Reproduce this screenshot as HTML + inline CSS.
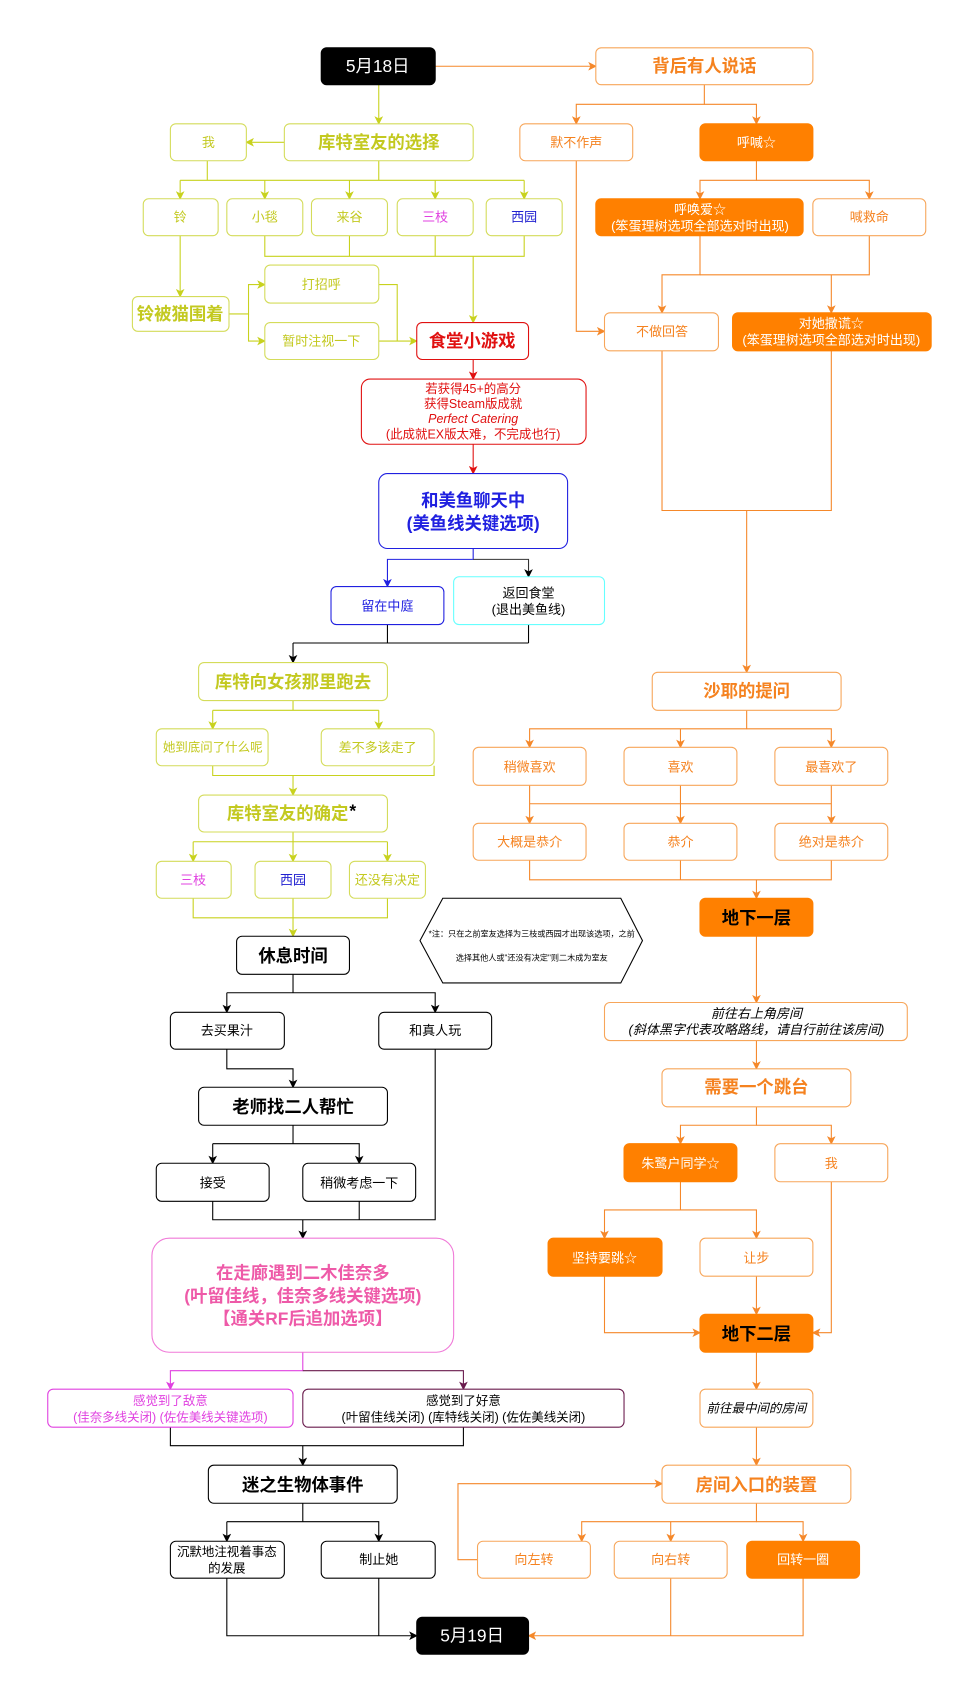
<!DOCTYPE html>
<html><head><meta charset="utf-8"><style>
html,body{margin:0;padding:0;background:#fff;}
svg{display:block}
text{font-family:"Liberation Sans","Noto Sans CJK SC",sans-serif;text-anchor:middle;dominant-baseline:central}
.b{font-weight:bold}
</style></head><body>
<svg width="980" height="1702" viewBox="0 0 903 1567" preserveAspectRatio="none" xmlns="http://www.w3.org/2000/svg">
<defs>
<marker id="yg" markerWidth="8" markerHeight="8" refX="7" refY="4" orient="auto" markerUnits="userSpaceOnUse"><path d="M0,0 L8,4 L0,8 L2,4z" fill="#c8d21e"/></marker>
<marker id="or" markerWidth="8" markerHeight="8" refX="7" refY="4" orient="auto" markerUnits="userSpaceOnUse"><path d="M0,0 L8,4 L0,8 L2,4z" fill="#f5882a"/></marker>
<marker id="rd" markerWidth="8" markerHeight="8" refX="7" refY="4" orient="auto" markerUnits="userSpaceOnUse"><path d="M0,0 L8,4 L0,8 L2,4z" fill="#e01010"/></marker>
<marker id="bl" markerWidth="8" markerHeight="8" refX="7" refY="4" orient="auto" markerUnits="userSpaceOnUse"><path d="M0,0 L8,4 L0,8 L2,4z" fill="#2020e0"/></marker>
<marker id="bk" markerWidth="8" markerHeight="8" refX="7" refY="4" orient="auto" markerUnits="userSpaceOnUse"><path d="M0,0 L8,4 L0,8 L2,4z" fill="#000"/></marker>
<marker id="pk" markerWidth="8" markerHeight="8" refX="7" refY="4" orient="auto" markerUnits="userSpaceOnUse"><path d="M0,0 L8,4 L0,8 L2,4z" fill="#e040e0"/></marker>
<marker id="mr" markerWidth="8" markerHeight="8" refX="7" refY="4" orient="auto" markerUnits="userSpaceOnUse"><path d="M0,0 L8,4 L0,8 L2,4z" fill="#6a1b4d"/></marker>
</defs>

<g fill="none" stroke="#c8d21e" stroke-width="1">
<path d="M349,78 V114" marker-end="url(#yg)"/>
<path d="M262,131 H227" marker-end="url(#yg)"/>
<path d="M349,148 V166 M191,148 V166 M166,166 H483"/>
<path d="M166,166 V183" marker-end="url(#yg)"/>
<path d="M244,166 V183" marker-end="url(#yg)"/>
<path d="M322,166 V183" marker-end="url(#yg)"/>
<path d="M401,166 V183" marker-end="url(#yg)"/>
<path d="M483,166 V183" marker-end="url(#yg)"/>
<path d="M244,217 V236 H483 V217 M322,217 V236 M401,217 V236"/>
<path d="M436,236 V297" marker-end="url(#yg)"/>
<path d="M166,217 V273" marker-end="url(#yg)"/>
<path d="M211,289 H229 V262 H244" marker-end="url(#yg)"/>
<path d="M229,289 V314 H244" marker-end="url(#yg)"/>
<path d="M349,262 H366 V314"/>
<path d="M349,314 H384" marker-end="url(#yg)"/>
<path d="M270,645 V654 M196,654 H349"/>
<path d="M196,654 V671" marker-end="url(#yg)"/>
<path d="M349,654 V671" marker-end="url(#yg)"/>
<path d="M196,705 V714 H400 V705"/>
<path d="M270,714 V732" marker-end="url(#yg)"/>
<path d="M270,766 V775 M178,775 H357"/>
<path d="M178,775 V793" marker-end="url(#yg)"/>
<path d="M270,775 V793" marker-end="url(#yg)"/>
<path d="M357,775 V793" marker-end="url(#yg)"/>
<path d="M178,827 V845 H357 V827"/>
<path d="M270,827 V862" marker-end="url(#yg)"/>
</g>
<path d="M436,331 V349" stroke="#e01010" fill="none" marker-end="url(#rd)"/>
<path d="M436,409 V436" stroke="#e01010" fill="none" marker-end="url(#rd)"/>
<path d="M436,505 V515 H357 V540" stroke="#2020e0" fill="none" marker-end="url(#bl)"/>
<path d="M436,515 H487 V531" stroke="#333" fill="none" marker-end="url(#bk)"/>
<g fill="none" stroke="#000" stroke-width="1">
<path d="M357,575 V592 M487,575 V592 M270,592 H487"/>
<path d="M270,592 V610" marker-end="url(#bk)"/>
<path d="M270,897 V914 M209,914 H401 V932" marker-end="url(#bk)"/>
<path d="M209,914 V932" marker-end="url(#bk)"/>
<path d="M209,966 V984 H270 V1001" marker-end="url(#bk)"/>
<path d="M270,1036 V1053 M196,1053 H331 V1071" marker-end="url(#bk)"/>
<path d="M196,1053 V1071" marker-end="url(#bk)"/>
<path d="M196,1106 V1123 H401 V966 M331,1106 V1123"/>
<path d="M279,1123 V1140" marker-end="url(#bk)"/>
<path d="M157,1314 V1331 H427 V1314"/>
<path d="M279,1331 V1349" marker-end="url(#bk)"/>
<path d="M279,1384 V1401 M209,1401 H349 V1419" marker-end="url(#bk)"/>
<path d="M209,1401 V1419" marker-end="url(#bk)"/>
<path d="M209,1453 V1506 H384" marker-end="url(#bk)"/>
<path d="M349,1453 V1506"/>
</g>
<path d="M279,1245 V1262 H157 V1279" stroke="#e040e0" fill="none" marker-end="url(#pk)"/>
<path d="M279,1262 H427 V1279" stroke="#6a1b4d" fill="none" marker-end="url(#mr)"/>
<g fill="none" stroke="#f5882a" stroke-width="1">
<path d="M401,61 H549" marker-end="url(#or)"/>
<path d="M649,78 V96 H531 V114" marker-end="url(#or)"/>
<path d="M649,96 H697 V114" marker-end="url(#or)"/>
<path d="M697,148 V166 H645 V183" marker-end="url(#or)"/>
<path d="M697,166 H801 V183" marker-end="url(#or)"/>
<path d="M531,148 V305 H557" marker-end="url(#or)"/>
<path d="M645,217 V253 H610 V288" marker-end="url(#or)"/>
<path d="M801,217 V253 H645 M766,253 V288" marker-end="url(#or)"/>
<path d="M610,323 V470 H766 V323"/>
<path d="M688,470 V619" marker-end="url(#or)"/>
<path d="M688,654 V671 H488 V688" marker-end="url(#or)"/>
<path d="M688,671 H766 V688" marker-end="url(#or)"/>
<path d="M627,671 V688" marker-end="url(#or)"/>
<path d="M488,723 V758" marker-end="url(#or)"/>
<path d="M627,723 V758" marker-end="url(#or)"/>
<path d="M766,723 V758" marker-end="url(#or)"/>
<path d="M488,740 H766"/>
<path d="M488,792 V810 H766 V792 M627,792 V810"/>
<path d="M697,810 V827" marker-end="url(#or)"/>
<path d="M697,862 V923" marker-end="url(#or)"/>
<path d="M697,958 V984" marker-end="url(#or)"/>
<path d="M697,1019 V1036 H627 V1053" marker-end="url(#or)"/>
<path d="M697,1036 H766 V1053" marker-end="url(#or)"/>
<path d="M627,1088 V1114 H557 V1140" marker-end="url(#or)"/>
<path d="M627,1114 H697 V1140" marker-end="url(#or)"/>
<path d="M557,1175 V1227 H645" marker-end="url(#or)"/>
<path d="M697,1175 V1210" marker-end="url(#or)"/>
<path d="M766,1088 V1227 H749" marker-end="url(#or)"/>
<path d="M697,1245 V1279" marker-end="url(#or)"/>
<path d="M697,1314 V1349" marker-end="url(#or)"/>
<path d="M697,1384 V1401 H536 V1419" marker-end="url(#or)"/>
<path d="M697,1401 H740 V1419" marker-end="url(#or)"/>
<path d="M618,1401 V1419" marker-end="url(#or)"/>
<path d="M440,1436 H422 V1366 H610" marker-end="url(#or)"/>
<path d="M740,1453 V1506 H487" marker-end="url(#or)"/>
<path d="M618,1453 V1506"/>
</g>

<g stroke-width="1">
<rect x="296" y="44" width="105" height="34" rx="5" fill="#000" stroke="#000"/>
<text x="348" y="61" fill="#fff" font-size="16">5月18日</text>
<rect x="384" y="1489" width="103" height="34" rx="5" fill="#000" stroke="#000"/>
<text x="435" y="1506" fill="#fff" font-size="16">5月19日</text>

<g fill="#fff" stroke="#d4dc5a">
<rect x="262" y="114" width="174" height="34" rx="5"/>
<rect x="157" y="114" width="70" height="34" rx="5"/>
<rect x="132" y="183" width="69" height="34" rx="5"/>
<rect x="209" y="183" width="70" height="34" rx="5"/>
<rect x="287" y="183" width="70" height="34" rx="5"/>
<rect x="366" y="183" width="70" height="34" rx="5"/>
<rect x="448" y="183" width="70" height="34" rx="5"/>
<rect x="122" y="273" width="89" height="32" rx="5"/>
<rect x="244" y="244" width="105" height="35" rx="5"/>
<rect x="244" y="297" width="105" height="34" rx="5"/>
<rect x="183" y="610" width="174" height="35" rx="5"/>
<rect x="144" y="671" width="103" height="34" rx="5"/>
<rect x="296" y="671" width="104" height="34" rx="5"/>
<rect x="183" y="732" width="174" height="34" rx="5"/>
<rect x="144" y="793" width="69" height="34" rx="5"/>
<rect x="235" y="793" width="70" height="34" rx="5"/>
<rect x="322" y="793" width="70" height="34" rx="5"/>
</g>
<g font-size="12" fill="#c3c920">
<text x="349" y="131" font-size="16" class="b">库特室友的选择</text>
<text x="192" y="131">我</text>
<text x="166" y="200">铃</text>
<text x="244" y="200">小毯</text>
<text x="322" y="200">来谷</text>
<text x="401" y="200" fill="#e040e0">三枝</text>
<text x="483" y="200" fill="#2020d0">西园</text>
<text x="166" y="289" font-size="16" class="b">铃被猫围着</text>
<text x="296" y="262">打招呼</text>
<text x="296" y="314">暂时注视一下</text>
<text x="270" y="628" font-size="16" class="b">库特向女孩那里跑去</text>
<text x="196" y="688" font-size="11.5">她到底问了什么呢</text>
<text x="348" y="688">差不多该走了</text>
<text x="265" y="749" font-size="16" class="b">库特室友的确定</text>
<text x="325" y="746" font-size="16" class="b" fill="#000">*</text>
<text x="178" y="810" fill="#e040e0">三枝</text>
<text x="270" y="810" fill="#2020d0">西园</text>
<text x="357" y="810">还没有决定</text>
</g>

<rect x="384" y="297" width="103" height="34" rx="5" fill="#fff" stroke="#e01010"/>
<text x="435" y="314" font-size="16" class="b" fill="#e01010">食堂小游戏</text>
<rect x="333" y="349" width="207" height="60" rx="8" fill="#fff" stroke="#e01010"/>
<g font-size="11.5" fill="#e01010">
<text x="436" y="358">若获得45+的高分</text>
<text x="436" y="372">获得Steam版成就</text>
<text x="436" y="386" font-style="italic">Perfect Catering</text>
<text x="436" y="400">(此成就EX版太难，不完成也行)</text>
</g>
<rect x="349" y="436" width="174" height="69" rx="8" fill="#fff" stroke="#2020e0"/>
<text x="436" y="461" font-size="16" class="b" fill="#2020e0">和美鱼聊天中</text>
<text x="436" y="482" font-size="16" class="b" fill="#2020e0">(美鱼线关键选项)</text>
<rect x="305" y="540" width="104" height="35" rx="5" fill="#fff" stroke="#2020e0"/>
<text x="357" y="558" font-size="12" fill="#2020e0">留在中庭</text>
<rect x="418" y="531" width="139" height="44" rx="5" fill="#fff" stroke="#66ffff"/>
<text x="487" y="546" font-size="12">返回食堂</text>
<text x="487" y="561" font-size="12">(退出美鱼线)</text>

<g fill="#fff" stroke="#000">
<rect x="218" y="862" width="104" height="35" rx="5"/>
<rect x="157" y="932" width="105" height="34" rx="5"/>
<rect x="349" y="932" width="104" height="34" rx="5"/>
<rect x="183" y="1001" width="174" height="35" rx="5"/>
<rect x="144" y="1071" width="104" height="35" rx="5"/>
<rect x="279" y="1071" width="104" height="35" rx="5"/>
<rect x="192" y="1349" width="174" height="35" rx="5"/>
<rect x="157" y="1419" width="105" height="34" rx="5"/>
<rect x="296" y="1419" width="105" height="34" rx="5"/>
</g>
<g font-size="12" fill="#000">
<text x="270" y="880" font-size="16" class="b">休息时间</text>
<text x="209" y="949">去买果汁</text>
<text x="401" y="949">和真人玩</text>
<text x="270" y="1019" font-size="16" class="b">老师找二人帮忙</text>
<text x="196" y="1089">接受</text>
<text x="331" y="1089">稍微考虑一下</text>
<text x="279" y="1367" font-size="16" class="b">迷之生物体事件</text>
<text x="209" y="1429" font-size="11.5">沉默地注视着事态</text>
<text x="209" y="1444" font-size="11.5">的发展</text>
<text x="349" y="1436">制止她</text>
</g>
<path d="M387,866 L408,827 L572,827 L592,866 L572,905 L408,905 Z" fill="#fff" stroke="#000"/>
<text x="490" y="860" font-size="7.5">*注：只在之前室友选择为三枝或西园才出现该选项，之前</text>
<text x="490" y="882" font-size="7.5">选择其他人或"还没有决定"则二木成为室友</text>

<rect x="140" y="1140" width="278" height="105" rx="16" fill="#fff" stroke="#f07ad8"/>
<g font-size="16" class="b" fill="#ee5aa8">
<text x="279" y="1172">在走廊遇到二木佳奈多</text>
<text x="279" y="1193">(叶留佳线，佳奈多线关键选项)</text>
<text x="279" y="1214">【通关RF后追加选项】</text>
</g>
<rect x="44" y="1279" width="226" height="35" rx="5" fill="#fff" stroke="#e040e0"/>
<text x="157" y="1290" font-size="11.5" fill="#e040e0">感觉到了敌意</text>
<text x="157" y="1305" font-size="11.5" fill="#e040e0">(佳奈多线关闭) (佐佐美线关键选项)</text>
<rect x="279" y="1279" width="296" height="35" rx="5" fill="#fff" stroke="#6a1b4d"/>
<text x="427" y="1290" font-size="11.5">感觉到了好意</text>
<text x="427" y="1305" font-size="11.5">(叶留佳线关闭) (库特线关闭) (佐佐美线关闭)</text>

<g fill="#fff" stroke="#f7a65a">
<rect x="549" y="44" width="200" height="34" rx="5"/>
<rect x="479" y="114" width="104" height="34" rx="5"/>
<rect x="749" y="183" width="104" height="34" rx="5"/>
<rect x="557" y="288" width="105" height="35" rx="5"/>
<rect x="601" y="619" width="174" height="35" rx="5"/>
<rect x="436" y="688" width="104" height="35" rx="5"/>
<rect x="575" y="688" width="104" height="35" rx="5"/>
<rect x="714" y="688" width="104" height="35" rx="5"/>
<rect x="436" y="758" width="104" height="34" rx="5"/>
<rect x="575" y="758" width="104" height="34" rx="5"/>
<rect x="714" y="758" width="104" height="34" rx="5"/>
<rect x="557" y="923" width="279" height="35" rx="5"/>
<rect x="610" y="984" width="174" height="35" rx="5"/>
<rect x="714" y="1053" width="104" height="35" rx="5"/>
<rect x="645" y="1140" width="104" height="35" rx="5"/>
<rect x="645" y="1279" width="104" height="35" rx="5"/>
<rect x="610" y="1349" width="174" height="35" rx="5"/>
<rect x="440" y="1419" width="104" height="34" rx="5"/>
<rect x="566" y="1419" width="104" height="34" rx="5"/>
</g>
<g fill="#ff8000" stroke="#ff8000">
<rect x="645" y="114" width="104" height="34" rx="5"/>
<rect x="549" y="183" width="191" height="34" rx="5"/>
<rect x="675" y="288" width="183" height="35" rx="5"/>
<rect x="645" y="827" width="104" height="35" rx="5"/>
<rect x="575" y="1053" width="104" height="35" rx="5"/>
<rect x="505" y="1140" width="105" height="35" rx="5"/>
<rect x="645" y="1210" width="104" height="35" rx="5"/>
<rect x="688" y="1419" width="104" height="34" rx="5"/>
</g>
<g font-size="12" fill="#f5821f">
<text x="649" y="61" font-size="16" class="b">背后有人说话</text>
<text x="531" y="131">默不作声</text>
<text x="801" y="200">喊救命</text>
<text x="610" y="305">不做回答</text>
<text x="688" y="636" font-size="16" class="b">沙耶的提问</text>
<text x="488" y="706">稍微喜欢</text>
<text x="627" y="706">喜欢</text>
<text x="766" y="706">最喜欢了</text>
<text x="488" y="775">大概是恭介</text>
<text x="627" y="775">恭介</text>
<text x="766" y="775">绝对是恭介</text>
<text x="697" y="1001" font-size="16" class="b">需要一个跳台</text>
<text x="766" y="1071">我</text>
<text x="697" y="1158">让步</text>
<text x="697" y="1367" font-size="16" class="b">房间入口的装置</text>
<text x="492" y="1436">向左转</text>
<text x="618" y="1436">向右转</text>
</g>
<g font-size="12" fill="#fff">
<text x="697" y="131">呼喊☆</text>
<text x="645" y="193">呼唤爱☆</text>
<text x="645" y="208">(笨蛋理树选项全部选对时出现)</text>
<text x="766" y="298">对她撒谎☆</text>
<text x="766" y="313">(笨蛋理树选项全部选对时出现)</text>
<text x="627" y="1071">朱鹭户同学☆</text>
<text x="557" y="1158">坚持要跳☆</text>
<text x="740" y="1436">回转一圈</text>
</g>
<text x="697" y="845" font-size="16" class="b" fill="#000">地下一层</text>
<text x="697" y="1228" font-size="16" class="b" fill="#000">地下二层</text>
<g font-size="12" font-style="italic" fill="#000">
<text x="697" y="933">前往右上角房间</text>
<text x="697" y="948">(斜体黑字代表攻略路线，请自行前往该房间)</text>
<text x="697" y="1297" font-size="11.5">前往最中间的房间</text>
</g>
</g>
</svg>
</body></html>
